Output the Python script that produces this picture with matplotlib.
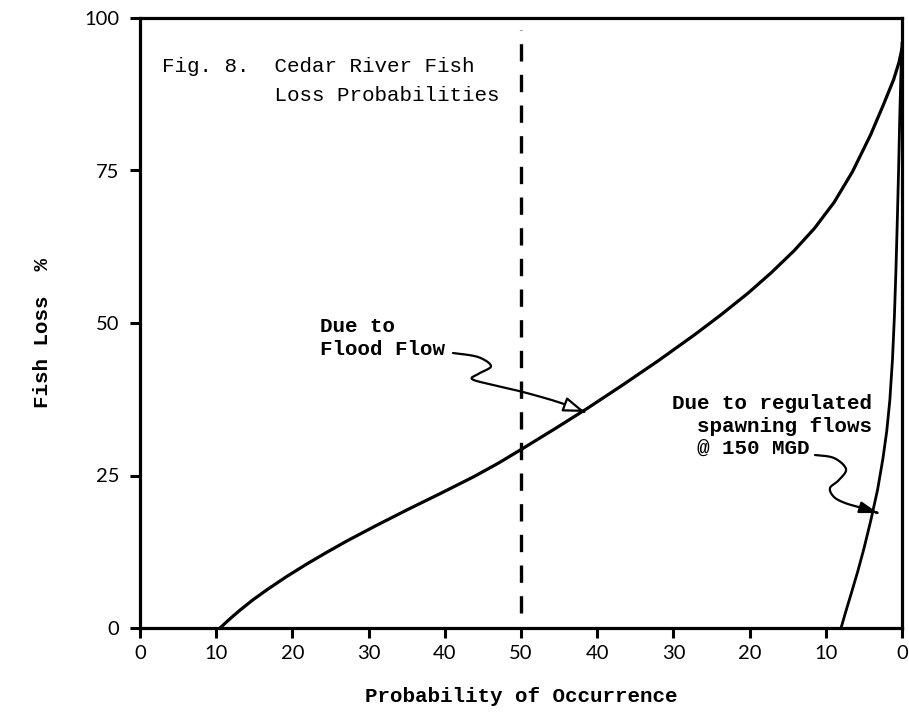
import numpy as np
import matplotlib
matplotlib.use("Agg")
import matplotlib.pyplot as plt
from matplotlib.patches import FancyArrowPatch, ArrowStyle
from matplotlib.path import Path

# Fish loss (%) versus probability of occurrence (folded scale 0..50..0)
flood_x = [10.5, 11.8, 13.1, 14.8, 16.7, 19.2, 21.9, 24.5, 27.2, 31.0,
           35.1, 39.5, 43.8, 47.0, 50.2, 54.5, 58.7, 63.3, 68.0, 72.7,
           76.2, 79.8, 82.8, 85.8, 88.5, 91.1, 93.5, 95.9, 97.6, 98.9,
           99.6, 100.0]
flood_y = [0.0, 1.5, 2.9, 4.6, 6.3, 8.4, 10.5, 12.4, 14.3, 16.8,
           19.4, 22.1, 24.8, 27.0, 29.4, 32.7, 36.0, 39.8, 43.8, 48.0,
           51.3, 54.9, 58.2, 61.8, 65.5, 69.8, 74.8, 80.9, 85.9, 89.9,
           92.7, 95.0]

spawn_x = [92.0, 92.6, 93.3, 94.2, 95.0, 95.9, 96.8, 97.5, 98.0, 98.4,
           98.75, 99.0, 99.2, 99.4, 99.55, 99.7, 99.85, 100.0]
spawn_y = [0.0, 2.6, 5.5, 9.3, 13.0, 17.6, 22.7, 27.8, 32.3, 37.3,
           44.0, 51.0, 58.5, 67.5, 75.0, 83.5, 90.5, 96.0]

x_ticks = [0, 10, 20, 30, 40, 50, 60, 70, 80, 90, 100]
x_tick_labels = ["0", "10", "20", "30", "40", "50", "40", "30", "20", "10", "0"]
y_ticks = [0, 25, 50, 75, 100]
y_tick_labels = ["0", "25", "50", "75", "100"]
median_x = 50

W, H = 909, 713
MONO = "Liberation Mono"
SANS = "Lato"

fig = plt.figure(figsize=(W / 100, H / 100), dpi=100)
fig.patch.set_facecolor("white")
ax = fig.add_axes([140 / W, 85 / H, 762 / W, 610 / H])


def px(x, y):
    """Figure pixel position (origin top-left) -> figure fraction."""
    return x / W, 1 - y / H


ax.plot(flood_x, flood_y, color="black", lw=2.3, solid_capstyle="round",
        solid_joinstyle="round")
ax.plot(spawn_x, spawn_y, color="black", lw=2.0, solid_capstyle="round",
        solid_joinstyle="round")
ax.axvline(median_x, ymin=0.025, ymax=0.98, color="black", lw=2.4,
           linestyle=(0, (5.2, 4.0)), dash_capstyle="butt")

ax.set_xlim(0, 100)
ax.set_ylim(0, 100)
ax.set_xticks(x_ticks)
ax.set_xticklabels(x_tick_labels, fontfamily=SANS, fontsize=14.5)
ax.set_yticks(y_ticks)
ax.set_yticklabels(y_tick_labels, fontfamily=SANS, fontsize=14.5)
ax.tick_params(axis="x", direction="out", length=7, width=2.2, pad=5)
ax.tick_params(axis="y", direction="out", length=7, width=2.2, pad=8)
for s in ax.spines.values():
    s.set_linewidth(2.3)
    s.set_color("black")

# Axis titles
fig.text(*px(521, 697), "Probability of Occurrence", ha="center", va="center",
         fontfamily=MONO, fontweight="bold", fontsize=15)
fig.text(*px(43, 333), "Fish Loss  %", ha="center", va="center", rotation=90,
         fontfamily=MONO, fontweight="bold", fontsize=15)

# Figure caption inside the frame
fig.text(*px(162, 81), "Fig. 8.  Cedar River Fish\n         Loss Probabilities",
         ha="left", va="center", fontfamily=MONO, fontsize=15, linespacing=1.65)

# Curve labels
fig.text(*px(320, 338), "Due to\nFlood Flow", ha="left", va="center",
         fontfamily=MONO, fontweight="bold", fontsize=15, linespacing=1.3)
fig.text(*px(672, 426), "Due to regulated\n  spawning flows\n  @ 150 MGD",
         ha="left", va="center", fontfamily=MONO, fontweight="bold",
         fontsize=15, linespacing=1.25)


def catmull(pts, n=24):
    p = np.asarray(pts, float)
    p = np.vstack([p[0], p, p[-1]])
    out = []
    t = np.linspace(0, 1, n, endpoint=False)[:, None]
    for i in range(1, len(p) - 2):
        p0, p1, p2, p3 = p[i - 1], p[i], p[i + 1], p[i + 2]
        out.append(0.5 * (2 * p1 + (-p0 + p2) * t
                          + (2 * p0 - 5 * p1 + 4 * p2 - p3) * t ** 2
                          + (-p0 + 3 * p1 - 3 * p2 + p3) * t ** 3))
    out.append(p[-2][None])
    return np.vstack(out)


def squiggle(points, style, face):
    pts = catmull(points)
    verts = np.array([px(x, y) for x, y in pts])
    arrow = FancyArrowPatch(path=Path(verts), arrowstyle=style,
                            mutation_scale=10, transform=fig.transFigure,
                            lw=1.6, edgecolor="black", facecolor=face)
    fig.add_artist(arrow)


# Wavy leader to the flood-flow curve (open head)
squiggle([(453, 353), (478, 357), (491, 366), (480, 373), (472, 379),
          (493, 385), (523, 392), (558, 402), (585, 412)],
         ArrowStyle("-|>", head_length=1.3, head_width=0.45), "white")

# Wavy leader to the spawning-flow curve (solid head)
squiggle([(815, 455), (834, 458), (846, 469), (839, 480), (830, 488),
          (834, 497), (845, 503), (862, 508), (878, 513)],
         ArrowStyle("-|>", head_length=1.1, head_width=0.35), "black")

fig.savefig("out.png", dpi=100, facecolor="white")
